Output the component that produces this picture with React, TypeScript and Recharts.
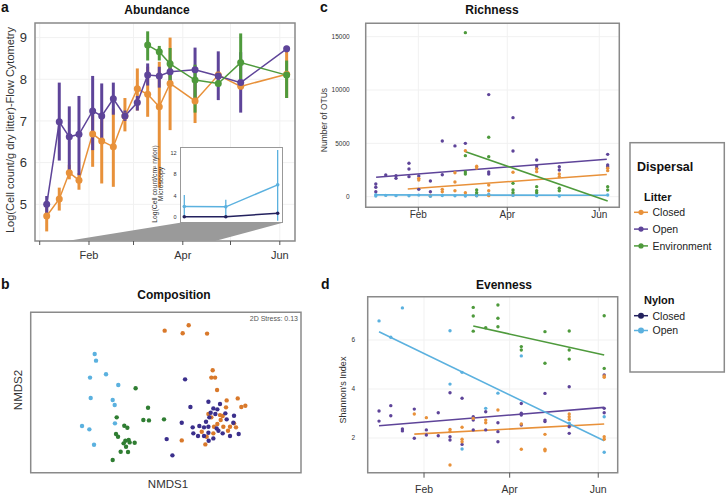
import React from "react";
import {
  CartesianGrid,
  ComposedChart,
  ErrorBar,
  Line,
  ReferenceArea,
  Scatter,
  XAxis,
  YAxis,
} from "recharts";

const FONT = "'Liberation Sans', Arial, Helvetica, sans-serif";
const ORANGE = "#E8913A";
const PURPLE = "#5E4499";
const GREEN = "#4E9A3C";
const SKY = "#5BB1DF";
const NAVY = "#23215E";
const FRAME = "#8a8a8a";
const GRID = "#f1f1f1";

// day of year: Jan 1 = 0
const monthTicks = [0, 31, 59, 90, 120, 151];
const monthLabels = ["", "Feb", "", "Apr", "", "Jun"];

// ---- a: Abundance (flow cytometry) ----
const aDays = [4.4, 12.3, 18.6, 24.7, 33.3, 39, 46.3, 53.6, 61.4, 67.9, 75.2, 82, 97.7, 112.3, 126.4, 155.3];
const openMean = [5.0, 6.98, 6.62, 6.68, 7.24, 7.12, 7.53, 7.12, 7.44, 8.1, 8.08, 8.18, 8.23, 8.08, 7.92, 8.73];
const openLow = [4.75, 6.05, 5.8, 5.7, 6.3, 6.5, 7.15, 7.0, 7.25, 7.85, 7.8, 7.95, 7.55, 7.5, 7.2, 8.65];
const openHigh = [5.2, 7.92, 7.35, 7.6, 8.08, 7.9, 7.92, 7.25, 7.6, 8.38, 8.3, 8.45, 8.76, 8.67, 8.65, 8.8];
const closedMean = [4.72, 5.13, 5.76, 5.58, 6.69, 6.52, 6.38, 7.12, 7.77, 7.64, 7.34, 7.9, 7.48, 8.1, 7.83, 8.12];
const closedLow = [4.35, 4.85, 5.6, 5.35, 5.9, 5.5, 5.42, 6.75, 7.25, 7.1, 5.4, 6.78, 6.95, 7.95, 7.75, 7.55];
const closedHigh = [5.0, 5.4, 5.95, 5.75, 7.15, 7.1, 7.3, 7.55, 8.26, 8.3, 8.42, 9.0, 7.95, 8.2, 7.9, 8.7];
const envDays = [67.9, 75.2, 82, 97.7, 112.3, 126.4, 155.3];
const envMean = [8.82, 8.66, 8.37, 7.98, 7.9, 8.4, 8.1];
const envLow = [8.45, 8.45, 7.9, 7.2, 7.85, 7.9, 7.55];
const envHigh = [9.15, 8.8, 8.75, 8.35, 7.95, 9.1, 8.45];

// inset: microscopy on nylon
const insetDays = [96, 124, 159];
const insetOpen = [1.95, 1.9, 6.0];
const insetOpenLow = [0, 0, -0.7];
const insetOpenHigh = [4.1, 3.2, 12.5];
const insetClosed = [0.05, 0.05, 0.7];
const insetClosedLow = [0, 0, 0.5];
const insetClosedHigh = [0.1, 0.1, 0.9];

// ---- b: Composition (NMDS) ----
const nmdsNylonOpen = [[-0.54, 0.295], [-0.53, 0.245], [-0.575, 0.118], [-0.455, 0.143], [-0.363, 0.063], [-0.57, -0.035], [-0.405, -0.05], [-0.39, -0.088], [-0.388, -0.225], [-0.635, -0.245], [-0.58, -0.27], [-0.545, -0.385]];
const nmdsEnv = [[-0.233, 0.038], [-0.14, -0.108], [-0.375, -0.18], [-0.175, -0.2], [-0.133, -0.203], [-0.02, -0.195], [-0.318, -0.243], [-0.295, -0.258], [-0.38, -0.305], [-0.365, -0.325], [-0.31, -0.355], [-0.285, -0.35], [-0.323, -0.375], [-0.278, -0.368], [-0.24, -0.37], [-0.305, -0.4], [-0.345, -0.438], [-0.29, -0.44], [-0.405, -0.5]];
const nmdsClosed = [[-0.015, 0.47], [0.12, 0.45], [0.165, 0.51], [0.303, 0.448], [0.345, 0.173], [0.335, 0.118], [0.363, 0.118], [0.378, 0.025], [0.45, -0.053], [0.533, -0.038], [0.56, -0.103], [0.59, -0.093], [0.113, -0.353], [0.29, -0.383], [0.313, -0.155], [0.335, -0.18], [0.4, -0.163], [0.42, -0.17], [0.445, -0.105], [0.38, -0.23], [0.355, -0.25], [0.425, -0.25], [0.475, -0.25], [0.505, -0.225], [0.52, -0.255], [0.46, -0.28], [0.3, -0.325], [0.35, -0.3], [0.405, -0.2], [0.263, -0.288]];
const nmdsOpen = [[0.138, 0.105], [0.178, -0.103], [0.313, -0.063], [0.113, -0.22], [0, -0.343], [0.043, -0.465], [0.195, -0.255], [0.245, -0.245], [0.28, -0.255], [0.313, -0.25], [0.35, -0.113], [0.38, -0.12], [0.33, -0.145], [0.365, -0.155], [0.32, -0.18], [0.44, -0.15], [0.505, -0.168], [0.45, -0.195], [0.5, -0.22], [0.42, -0.3], [0.388, -0.28], [0.35, -0.338], [0.315, -0.355], [0.28, -0.32], [0.235, -0.32], [0.2, -0.3], [0.313, -0.295], [0.54, -0.305], [0.475, -0.32], [0.375, -0.263], [0.295, -0.213], [0.4, -0.08]];

// ---- c: Richness ----
const cDays = [2.8, 9.4, 16.2, 24.8, 31.3, 39, 46.9, 55.3, 62.2, 69.7, 77.7, 93.8, 109.5, 124.5, 156.6];
const richOpen = [[1190, 880, 470], [2035], [1970, 1720], [3130, 2600, 1880], [1940, 690], [1470, 470], [5220, 2060], [4760], [5000], [], [9570, 2320, 2130], [7410, 4290], [3440, 2910, 2660], [2810, 2500], [3970, 2970, 2810]];
const richClosed = [[], [], [], [], [1720, 1560], [60], [690, 470], [2250, 1380, 560], [4310, 380], [2850, 2690, 100], [1100, 560, 100], [2290, 160], [2600, 2350], [2130, 1880], [2660, 2440]];
const richEnv = [[], [], [], [], [], [], [], [], [15380, 3850, 2320, 2130], [630, 380, 160], [5570, 3750], [1250, 630, 380], [940, 560, 380], [790, 560], [940, 630]];
const richNylon = [[180, 60], [120], [100], [90], [150], [40], [110], [80], [60], [90], [240], [120], [100], [60], [160]];
const richFitOpen = [[3, 1820], [156, 3510]];
const richFitClosed = [[24, 720], [156, 2080]];
const richFitNylon = [[3, 170], [156, 130]];
const richFitEnv = [[62.4, 4220], [156.6, -400]];

// ---- d: Evenness ----
const dDays = [0, 8.1, 16.1, 24.3, 32.6, 40.8, 48.9, 57.2, 64.9, 73.5, 81.9, 98, 114.3, 131, 155.1];
const evenOpen = [[3.1, 2.69], [3.32, 2.91], [2.37, 2.29], [3.18, 1.99], [2.33, 2.12], [3.03, 2.09], [3.85, 2.05, 1.92], [3.62, 1.74], [2.87, 2.73, 2.33], [3.07, 2.33], [2.62, 2.26, 1.85], [3.41, 3.01, 2.94, 2.53], [3.82, 2.73, 2.67], [4.09, 2.46, 2.19], [4.57, 3.21, 3.03]];
const evenClosed = [[], [], [], [2.98], [2.83], [], [2.35, 2.26, 0.9], [2.44, 1.95, 1.85], [2.8], [2.73, 2.62], [3.14], [2.57, 1.54], [2.15, 1.54, 1.48], [2.98, 2.87, 2.76], [4.53, 4.48, 2.05, 1.95]];
const evenEnv = [[], [], [], [], [], [], [], [], [7.33, 6.98, 6.36], [6.5], [7.43, 6.89, 6.54], [5.73, 5.59], [6.34, 5.05], [6.37, 5.59, 5.22], [6.99, 4.84]];
const evenNylon = [[6.78], [6.11], [7.31], [], [], [], [6.38, 4.2], [4.68, 1.55], [], [3.21], [3.83], [5.35], [], [2.6], [2.87, 1.42]];
const evenFitNylon = [[0, 6.34], [155.1, 1.89]];
const evenFitOpen = [[0, 2.5], [155.1, 3.25]];
const evenFitClosed = [[24.3, 2.16], [155.1, 2.57]];
const evenFitEnv = [[64.9, 6.57], [155.1, 5.39]];

const withErr = (days: number[], mean: number[], low: number[], high: number[]) =>
  days.map((day, i) => ({ day, v: mean[i], err: [mean[i] - low[i], high[i] - mean[i]] }));
const columns = (days: number[], vals: number[][]) =>
  vals.flatMap((col, i) => col.map((v) => ({ day: days[i], v })));
const pairs = (pts: number[][]) => pts.map(([day, v]) => ({ day, v }));
const xy = (pts: number[][]) => pts.map(([x, y]) => ({ x, y }));

const dotShape = (fill: string, r: number) => (p: any) => (
  <circle cx={p.cx} cy={p.cy} r={r} fill={fill} />
);
const monthFmt = (v: number) => monthLabels[monthTicks.indexOf(v)] ?? "";

const Box = ({ x, y, w, h, children }: any) => (
  <div style={{ position: "absolute", left: x, top: y, width: w, height: h }}>{children}</div>
);

function Abundance() {
  const xd: [number, number] = [-2.96, 160.56];
  const yd: [number, number] = [4.12, 9.35];
  const series = [
    { data: withErr(aDays, closedMean, closedLow, closedHigh), c: ORANGE },
    { data: withErr(aDays, openMean, openLow, openHigh), c: PURPLE },
    { data: withErr(envDays, envMean, envLow, envHigh), c: GREEN },
  ];
  return (
    <ComposedChart width={300} height={265} margin={{ top: 23, right: 5, bottom: 0, left: 0 }}>
      <CartesianGrid stroke={GRID} />
      <XAxis dataKey="day" type="number" domain={xd} allowDataOverflow ticks={monthTicks}
        tickFormatter={monthFmt} height={24} axisLine={false} tickSize={4} tickMargin={6}
        tickLine={{ stroke: "#555" }} tick={{ fontSize: 11, fill: "#333", fontFamily: FONT }} />
      <YAxis dataKey="v" type="number" domain={yd} allowDataOverflow ticks={[5, 6, 7, 8, 9]}
        width={35} axisLine={false} tickLine={false} tick={{ fontSize: 13, fill: "#333", fontFamily: FONT }} />
      <ReferenceArea x1={xd[0]} x2={xd[1]} y1={yd[0]} y2={yd[1]} fill="none" stroke={FRAME} strokeWidth={1.5} />
      {series.map((s, i) => (
        <Line key={i} data={s.data} dataKey="v" stroke={s.c} strokeWidth={1.5} isAnimationActive={false}
          dot={{ r: 3.5, fill: s.c, stroke: s.c, strokeWidth: 0 }}>
          <ErrorBar dataKey="err" width={0} strokeWidth={3} stroke={s.c} direction="y" />
        </Line>
      ))}
    </ComposedChart>
  );
}

function Inset() {
  const xd: [number, number] = [93.1, 162.4];
  const yd: [number, number] = [-1.06, 13.12];
  const series = [
    { data: withErr(insetDays, insetOpen, insetOpenLow, insetOpenHigh), c: SKY },
    { data: withErr(insetDays, insetClosed, insetClosedLow, insetClosedHigh), c: NAVY },
  ];
  return (
    <ComposedChart width={120} height={86} margin={{ top: 6.7, right: 2.3, bottom: 3.3, left: 0 }}>
      <XAxis dataKey="day" type="number" domain={xd} allowDataOverflow hide />
      <YAxis dataKey="v" type="number" domain={yd} allowDataOverflow ticks={[0, 4, 8, 12]} width={15}
        axisLine={false} tickLine={false} tickSize={2} tickMargin={1.5}
        tick={{ fontSize: 5.5, fill: "#333", fontFamily: FONT }} />
      {series.map((s, i) => (
        <Line key={i} data={s.data} dataKey="v" stroke={s.c} strokeWidth={1.5} isAnimationActive={false}
          dot={{ r: 1.8, fill: s.c, stroke: s.c, strokeWidth: 0 }}>
          <ErrorBar dataKey="err" width={0} strokeWidth={1.3} stroke={s.c} direction="y" />
        </Line>
      ))}
    </ComposedChart>
  );
}

function Composition() {
  const xd: [number, number] = [-1.02, 1.0075];
  const yd: [number, number] = [-0.595, 0.6075];
  const series = [
    { data: xy(nmdsNylonOpen), c: SKY },
    { data: xy(nmdsEnv), c: "#2F7D32" },
    { data: xy(nmdsClosed), c: "#D9792B" },
    { data: xy(nmdsOpen), c: "#3B2F8C" },
  ];
  return (
    <ComposedChart width={305} height={200} margin={{ top: 32.3, right: 4, bottom: 7.3, left: 30.7 }}>
      <XAxis dataKey="x" type="number" domain={xd} allowDataOverflow hide />
      <YAxis dataKey="y" type="number" domain={yd} allowDataOverflow hide />
      <ReferenceArea x1={xd[0]} x2={xd[1]} y1={yd[0]} y2={yd[1]} fill="none" stroke={FRAME} strokeWidth={1.5} />
      {series.map((s, i) => (
        <Scatter key={i} data={s.data} isAnimationActive={false} shape={dotShape(s.c, 2.2)} />
      ))}
    </ComposedChart>
  );
}

function Richness() {
  const xd: [number, number] = [-3.9, 164.3];
  const yd: [number, number] = [-994, 16256];
  const pts = [
    { data: columns(cDays, richOpen), c: PURPLE },
    { data: columns(cDays, richClosed), c: ORANGE },
    { data: columns(cDays, richEnv), c: GREEN },
    { data: columns(cDays, richNylon), c: SKY },
  ];
  const fits = [
    { data: pairs(richFitNylon), c: SKY },
    { data: pairs(richFitClosed), c: ORANGE },
    { data: pairs(richFitOpen), c: PURPLE },
    { data: pairs(richFitEnv), c: GREEN },
  ];
  return (
    <ComposedChart width={322} height={230} margin={{ top: 23.3, right: 2.7, bottom: 0, left: 0 }}>
      <CartesianGrid stroke={GRID} />
      <XAxis dataKey="day" type="number" domain={xd} allowDataOverflow ticks={[31, 90, 151]}
        tickFormatter={monthFmt} height={22.7} axisLine={false} tickSize={4} tickMargin={0}
        tickLine={{ stroke: "#555" }} tick={{ fontSize: 10, fill: "#333", fontFamily: FONT }} />
      <YAxis dataKey="v" type="number" domain={yd} allowDataOverflow ticks={[0, 5000, 10000, 15000]}
        width={65.7} axisLine={false} tickLine={false} tickSize={6} tickMargin={10}
        tick={{ fontSize: 6.5, fill: "#333", fontFamily: FONT }} />
      <ReferenceArea x1={xd[0]} x2={xd[1]} y1={yd[0]} y2={yd[1]} fill="none" stroke={FRAME} strokeWidth={1.5} />
      {pts.map((s, i) => (
        <Scatter key={"p" + i} data={s.data} isAnimationActive={false} shape={dotShape(s.c, 1.7)} />
      ))}
      {fits.map((s, i) => (
        <Line key={"f" + i} data={s.data} dataKey="v" stroke={s.c} strokeWidth={1.6} dot={false} isAnimationActive={false} />
      ))}
    </ComposedChart>
  );
}

function Evenness() {
  const xd: [number, number] = [-7.8, 164.4];
  const yd: [number, number] = [0.584, 7.767];
  const pts = [
    { data: columns(dDays, evenOpen), c: PURPLE },
    { data: columns(dDays, evenClosed), c: ORANGE },
    { data: columns(dDays, evenEnv), c: GREEN },
    { data: columns(dDays, evenNylon), c: SKY },
  ];
  const fits = [
    { data: pairs(evenFitClosed), c: ORANGE },
    { data: pairs(evenFitOpen), c: PURPLE },
    { data: pairs(evenFitEnv), c: GREEN },
    { data: pairs(evenFitNylon), c: SKY },
  ];
  return (
    <ComposedChart width={322} height={216} margin={{ top: 16.7, right: 4.3, bottom: 0, left: 0 }}>
      <CartesianGrid stroke={GRID} />
      <XAxis dataKey="day" type="number" domain={xd} allowDataOverflow ticks={[31, 90, 151]}
        tickFormatter={monthFmt} height={23.3} axisLine={false} tickSize={5} tickMargin={8}
        tickLine={{ stroke: "#555" }} tick={{ fontSize: 10.5, fill: "#333", fontFamily: FONT }} />
      <YAxis dataKey="v" type="number" domain={yd} allowDataOverflow ticks={[2, 4, 6]}
        width={67.7} axisLine={false} tickLine={false} tickSize={6} tickMargin={6.7}
        tick={{ fontSize: 6.5, fill: "#333", fontFamily: FONT }} />
      <ReferenceArea x1={xd[0]} x2={xd[1]} y1={yd[0]} y2={yd[1]} fill="none" stroke={FRAME} strokeWidth={1.5} />
      {pts.map((s, i) => (
        <Scatter key={"p" + i} data={s.data} isAnimationActive={false} shape={dotShape(s.c, 1.7)} />
      ))}
      {fits.map((s, i) => (
        <Line key={"f" + i} data={s.data} dataKey="v" stroke={s.c} strokeWidth={1.6} dot={false} isAnimationActive={false} />
      ))}
    </ComposedChart>
  );
}

const litterItems = [
  { label: "Closed", c: ORANGE },
  { label: "Open", c: PURPLE },
  { label: "Environment", c: GREEN },
];
const nylonItems = [
  { label: "Closed", c: NAVY },
  { label: "Open", c: SKY },
];

function Overlay() {
  const t = { fontFamily: FONT, fill: "#111" } as const;
  return (
    <svg width={726} height={497} style={{ position: "absolute", left: 0, top: 0, pointerEvents: "none" }}>
      {/* panel letters and titles */}
      <text x={1} y={12} fontSize={14} fontWeight="bold" {...t}>a</text>
      <text x={157} y={14} fontSize={12} fontWeight="bold" textAnchor="middle" {...t}>Abundance</text>
      <text x={1} y={289} fontSize={14} fontWeight="bold" {...t}>b</text>
      <text x={174} y={299} fontSize={12} fontWeight="bold" textAnchor="middle" {...t}>Composition</text>
      <text x={320} y={12} fontSize={14} fontWeight="bold" {...t}>c</text>
      <text x={492} y={14} fontSize={12} fontWeight="bold" textAnchor="middle" {...t}>Richness</text>
      <text x={321} y={289} fontSize={14} fontWeight="bold" {...t}>d</text>
      <text x={504} y={289} fontSize={12} fontWeight="bold" textAnchor="middle" {...t}>Evenness</text>

      {/* axis titles */}
      <text transform="rotate(-90 14 130)" x={14} y={130} fontSize={11} textAnchor="middle" {...t} fill="#333">
        Log(Cell count/g dry litter)-Flow Cytometry
      </text>
      <text transform="rotate(-90 156.5 184)" x={156.5} y={184} fontSize={6.8} textAnchor="middle" {...t} fill="#333">
        Log(Cell count/cm² nylon)
      </text>
      <text transform="rotate(-90 163 184)" x={163} y={184} fontSize={6.8} textAnchor="middle" {...t} fill="#333">
        Microscopy
      </text>
      <text x={168} y={488} fontSize={11.5} textAnchor="middle" {...t} fill="#333">NMDS1</text>
      <text transform="rotate(-90 22 390)" x={22} y={390} fontSize={11.5} textAnchor="middle" {...t} fill="#333">NMDS2</text>
      <text x={298} y={321} fontSize={7} textAnchor="end" {...t} fill="#555">2D Stress: 0.13</text>
      <text transform="rotate(-90 327 120)" x={327} y={120} fontSize={8.5} textAnchor="middle" {...t} fill="#333">Number of OTUs</text>
      <text transform="rotate(-90 346 390)" x={346} y={390} fontSize={9} textAnchor="middle" {...t} fill="#333">Shannon's Index</text>

      {/* legend */}
      <rect x={630} y={142.7} width={94.3} height={229.3} fill="none" stroke={FRAME} strokeWidth={1.5} />
      <text x={637} y={171} fontSize={12.5} fontWeight="bold" {...t}>Dispersal</text>
      <text x={644} y={201} fontSize={11} fontWeight="bold" {...t}>Litter</text>
      {litterItems.map((it, i) => (
        <g key={it.label}>
          <line x1={634} x2={648} y1={212.3 + i * 16.8} y2={212.3 + i * 16.8} stroke={it.c} strokeWidth={1.5} />
          <circle cx={641} cy={212.3 + i * 16.8} r={2.6} fill={it.c} />
          <text x={652.5} y={216 + i * 16.8} fontSize={10.5} {...t} fill="#222">{it.label}</text>
        </g>
      ))}
      <text x={644} y={304} fontSize={11} fontWeight="bold" {...t}>Nylon</text>
      {nylonItems.map((it, i) => (
        <g key={it.label}>
          <line x1={634} x2={648} y1={315.7 + i * 14.8} y2={315.7 + i * 14.8} stroke={it.c} strokeWidth={1.5} />
          <circle cx={641} cy={315.7 + i * 14.8} r={3} fill={it.c} />
          <text x={652.5} y={319.5 + i * 14.8} fontSize={10.5} {...t} fill="#222">{it.label}</text>
        </g>
      ))}
    </svg>
  );
}

export default function App() {
  return (
    <div style={{ position: "absolute", left: 0, top: 0, width: 726, height: 497, background: "#fff", fontFamily: FONT }}>
      <Box x={0} y={0} w={300} h={265}><Abundance /></Box>
      {/* zoom callout from panel a's time axis to the inset */}
      <svg width={300} height={265} style={{ position: "absolute", left: 0, top: 0 }}>
        <polygon points="67,241 180,222.7 282.7,222.7 215,241" fill="#9a9a9a" />
      </svg>
      <div style={{ position: "absolute", left: 180, top: 146.7, width: 102.7, height: 76, background: "#fff", border: "1px solid #999", boxSizing: "border-box" }} />
      <Box x={165} y={140} w={120} h={86}><Inset /></Box>
      <Box x={0} y={280} w={305} h={200}><Composition /></Box>
      <Box x={300} y={0} w={322} h={230}><Richness /></Box>
      <Box x={300} y={280} w={322} h={216}><Evenness /></Box>
      <Overlay />
    </div>
  );
}
